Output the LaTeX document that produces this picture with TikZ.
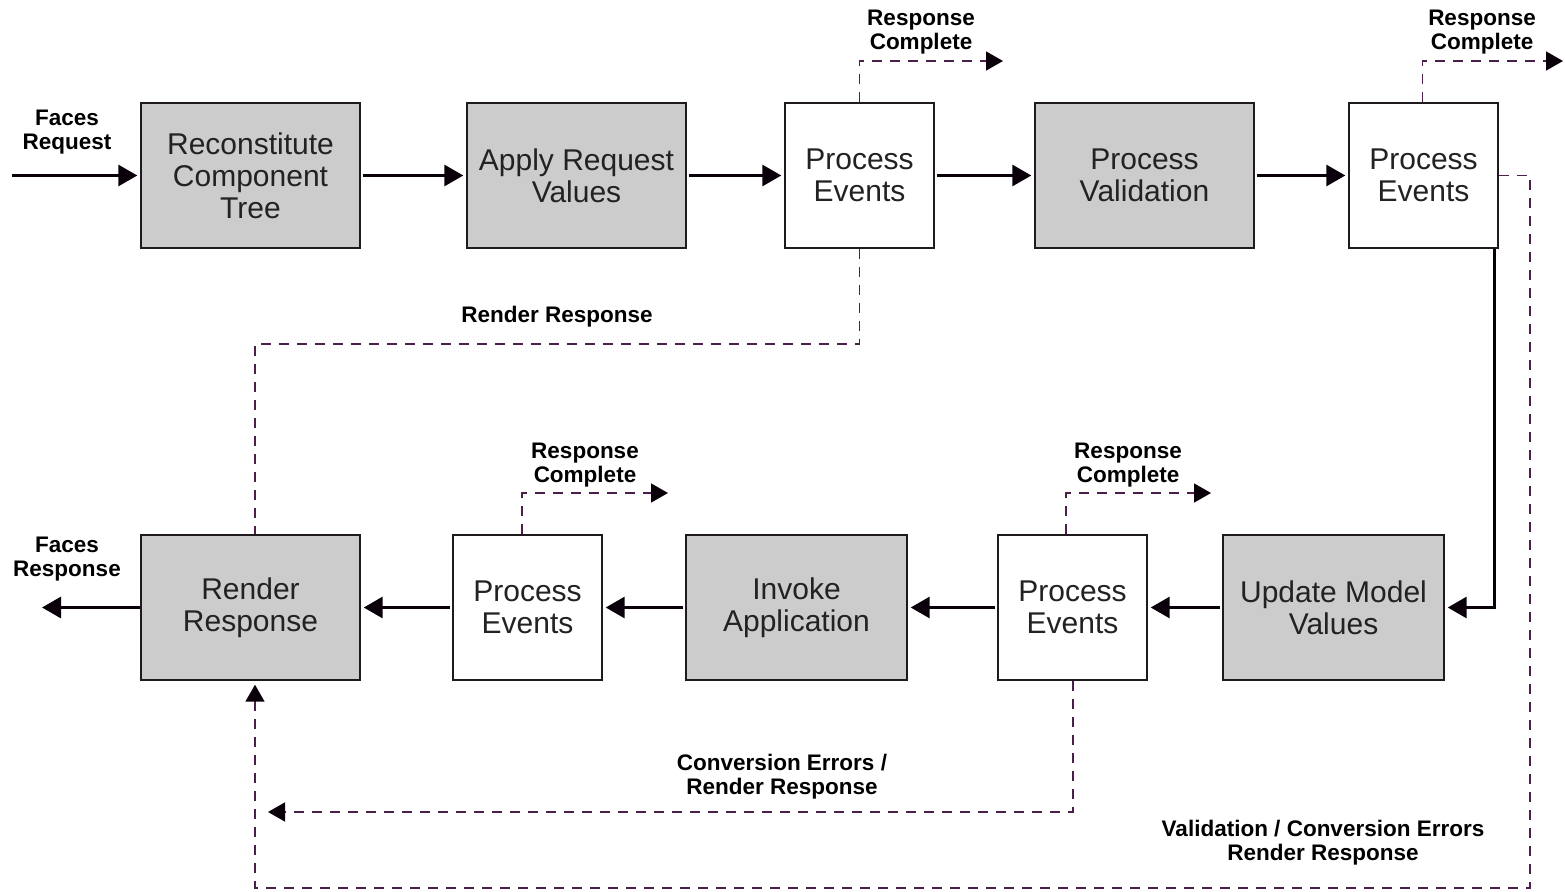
\documentclass[tikz,border=0pt]{standalone}
\usepackage{fontspec}
\setmainfont{Liberation Sans}
\usetikzlibrary{arrows.meta}

\definecolor{phasegray}{HTML}{CCCCCC}
\definecolor{boxline}{HTML}{1E1A1E}
\definecolor{boxtext}{HTML}{222222}
\definecolor{altpurple}{HTML}{4A1F4A}
\definecolor{flowblack}{HTML}{0A000A}

\begin{document}
\begin{tikzpicture}[x=1pt,y=-1pt,
  box/.style={draw=boxline, line width=1.4pt, inner sep=0pt, align=center,
    text=boxtext, font=\fontsize{30}{32}\selectfont, minimum height=145pt},
  phase/.style={box, fill=phasegray, minimum width=219pt},
  evt/.style={box, fill=white, minimum width=149pt},
  flow/.style={draw=flowblack, line width=3pt, shorten <=2pt, shorten >=3pt,
    -{Triangle[length=19pt,width=21pt]}},
  alt/.style={draw=altpurple, line width=1.6pt, dash pattern=on 10pt off 8pt},
  altarrow/.style={alt, -{Triangle[length=17pt,width=19pt,color=flowblack]}},
  lbl/.style={font=\bfseries\fontsize{22.5}{24}\selectfont, align=center,
    inner sep=0pt, text=black}]
\useasboundingbox (0,0) rectangle (1565,891);

% upper row of phases
\node[phase] (rct) at (250.5,175.5) {Reconstitute\\Component\\Tree};
\node[phase] (arv) at (576.5,175.5) {Apply Request\\Values};
\node[evt]   (pe1) at (859.5,175.5) {Process\\Events};
\node[phase] (pv)  at (1144.5,175.5) {Process\\Validation};
\node[evt]   (pe2) at (1423.5,175.5) {Process\\Events};

% lower row of phases
\node[phase, minimum width=221pt] (umv) at (1333.5,607.5) {Update Model\\Values};
\node[evt]   (pe4) at (1072.5,607.5) {Process\\Events};
\node[phase, minimum width=221pt] (ia) at (796.5,607.5) {Invoke\\Application};
\node[evt]   (pe3) at (527.5,607.5) {Process\\Events};
\node[phase] (rr)  at (250.5,607.5) {Render\\Response};

% free ends of connectors
\coordinate (reqin)  at (12,175.5);
\coordinate (resout) at (42,607.5);
\coordinate (rc1) at (1003,61);
\coordinate (rc2) at (1563,61);
\coordinate (rc3) at (668,493);
\coordinate (rc4) at (1211,493);
\coordinate (skip) at (255,344);
\coordinate (vright) at (1530,888);
\coordinate (conv) at (268,812);

% main request flow
\draw[flow, shorten <=0pt] (reqin) -- (rct.west);
\draw[flow] (rct) -- (arv);
\draw[flow] (arv) -- (pe1);
\draw[flow] (pe1) -- (pv);
\draw[flow] (pv) -- (pe2);
\draw[flow, shorten <=0pt] ([xshift=-4pt]pe2.south east) |- (umv.east);
\draw[flow] (umv) -- (pe4);
\draw[flow] (pe4) -- (ia);
\draw[flow] (ia) -- (pe3);
\draw[flow] (pe3) -- (rr);
\draw[flow, shorten <=0pt, shorten >=0pt] (rr.west) -- (resout);

% response complete exits
\draw[altarrow] (pe1.north) |- (rc1);
\draw[altarrow] ([xshift=-1pt]pe2.north) |- (rc2);
\draw[altarrow] ([xshift=-5.5pt]pe3.north) |- (rc3);
\draw[altarrow] ([xshift=-6.5pt]pe4.north) |- (rc4);

% jumps to render response
\draw[alt] (pe1.south) |- (skip) -- ([xshift=4.5pt]rr.north);
\draw[altarrow, shorten >=4pt] (pe2.east) -| (vright) -| ([xshift=4.5pt]rr.south);
\draw[altarrow] ([xshift=0.5pt]pe4.south) |- (conv);

% labels
\node[lbl] (lreq) at (67,132) {Faces\\Request};
\node[lbl] (lres) at (67,559) {Faces\\Response};
\node[lbl] (lrc1) at (921,32) {Response\\Complete};
\node[lbl] (lrc2) at (1482,32) {Response\\Complete};
\node[lbl] (lrc3) at (585,465) {Response\\Complete};
\node[lbl] (lrc4) at (1128,465) {Response\\Complete};
\node[lbl] (lrr)  at (557,317) {Render Response};
\node[lbl] (lconv) at (782,777) {Conversion Errors /\\Render Response};
\node[lbl] (lval) at (1323,843) {Validation / Conversion Errors\\Render Response};
\end{tikzpicture}
\end{document}
